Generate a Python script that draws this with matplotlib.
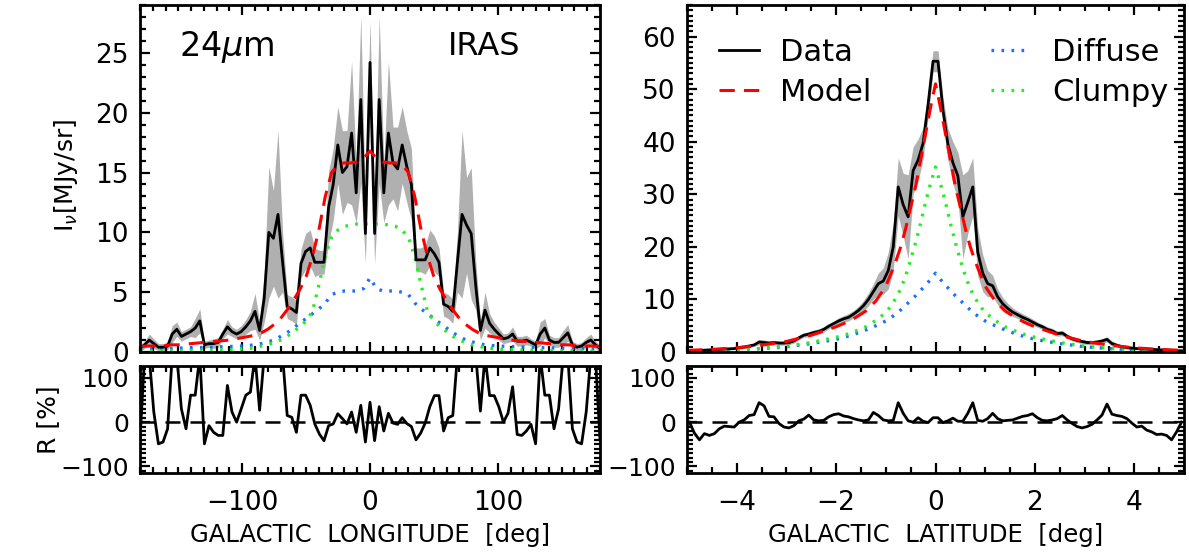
import numpy as np
import matplotlib.pyplot as plt
from matplotlib.ticker import MultipleLocator

plt.rcParams['font.family'] = ['DejaVu Sans']
plt.rcParams['mathtext.fontset'] = 'dejavusans'

# ---- longitude profile (3.6 deg bins) ----
lon = np.linspace(-180, 180, 101)
lon_data = [0.3, 0.6, 1.0, 0.7, 0.4, 0.4, 0.5, 1.5, 1.9, 1.3,
            1.5, 1.7, 2.0, 2.6, 0.6, 0.7, 0.7, 0.8, 1.5, 2.1,
            1.7, 1.5, 1.7, 2.1, 2.6, 3.4, 1.8, 4.5, 10.0, 9.5,
            11.5, 7.5, 3.8, 3.6, 3.3, 7.4, 8.4, 8.7, 7.5, 7.5,
            7.5, 12.1, 14.0, 17.3, 15.0, 15.5, 18.3, 13.3, 21.1, 9.9,
            24.2,
            9.9, 21.1, 13.3, 18.3, 15.8, 15.3, 17.3, 15.5, 14.0, 7.7,
            7.7, 7.7, 8.7, 8.2, 7.5, 4.0, 3.8, 3.4, 7.5, 11.5,
            10.6, 9.9, 5.5, 1.8, 3.5, 2.4, 1.9, 1.5, 1.1, 1.2,
            1.5, 0.9, 0.9, 1.0, 0.8, 0.6, 1.5, 2.0, 1.0, 0.8,
            0.8, 1.2, 1.6, 0.6, 0.4, 0.5, 0.8, 1.0, 0.6, 0.3]
lon_err = [0.3, 0.3, 0.5, 0.4, 0.3, 0.3, 0.3, 0.7, 0.6, 0.4,
           0.4, 0.4, 0.8, 1.0, 0.3, 0.3, 0.4, 0.4, 0.4, 0.6,
           0.4, 0.4, 0.5, 0.6, 0.8, 1.5, 0.8, 2.0, 5.5, 4.0,
           7.0, 2.5, 1.0, 1.0, 1.0, 1.2, 1.5, 1.5, 1.2, 1.0,
           1.0, 3.0, 3.0, 3.2, 3.5, 3.0, 6.0, 2.5, 7.0, 2.5,
           3.5,
           2.5, 7.0, 2.5, 6.0, 3.0, 3.5, 3.2, 3.0, 3.0, 1.0,
           1.0, 1.2, 1.5, 1.5, 1.2, 1.0, 1.0, 1.0, 2.5, 7.0,
           4.0, 5.5, 2.0, 0.8, 1.5, 0.8, 0.6, 0.5, 0.4, 0.4,
           0.6, 0.4, 0.4, 0.4, 0.3, 0.3, 1.0, 0.8, 0.4, 0.4,
           0.4, 0.6, 0.7, 0.3, 0.3, 0.3, 0.4, 0.5, 0.3, 0.3]
lon_resid = [-40, 150, 150, 23, -49, -45, -15, 150, 150, 30,
             -15, 61, 61, 150, -49, -8, -23, -30, -30, 83,
             23, 0, 30, 61, 68, 150, 27, 150, 150, 150,
             150, 150, 15, 11, -23, 61, 61, 38, -4, -27,
             -42, -8, -4, 19, 8, -4, 23, -23, 38, -45,
             45,
             -42, 35, -20, 20, -2, -5, 10, -3, -10, -40,
             -25, -2, 35, 60, 60, -20, 10, 15, 150, 150,
             150, 150, 150, 25, 150, 60, 60, 35, 0, 20,
             80, -28, -30, -20, -5, -49, 150, 61, 61, -15,
             30, 150, 150, -15, -45, -49, 23, 150, 150, -40]

# model components along longitude (5 deg grid)
lon_m = np.arange(-180, 181, 5)
lon_model = [0.45, 0.5, 0.5, 0.5, 0.55, 0.6, 0.6, 0.65, 0.7, 0.75,
             0.8, 0.85, 0.9, 0.95, 1.0, 1.1, 1.2, 1.3, 1.4, 1.6,
             1.9, 2.3, 2.8, 3.5, 4.3, 5.2, 6.3, 8.0, 10.2, 13.0,
             15.0, 15.7, 15.8, 15.8, 15.9, 16.2, 16.8, 16.2, 15.9, 15.8,
             15.8, 15.7, 15.0, 13.0, 10.2, 8.0, 6.3, 5.2, 4.3, 3.5,
             2.8, 2.3, 1.9, 1.6, 1.4, 1.3, 1.2, 1.1, 1.0, 0.95,
             0.9, 0.85, 0.8, 0.75, 0.7, 0.65, 0.6, 0.6, 0.55, 0.5,
             0.5, 0.5, 0.45]
lon_diffuse = [0.25, 0.26, 0.27, 0.28, 0.3, 0.3, 0.32, 0.33, 0.35, 0.36,
               0.38, 0.4, 0.42, 0.44, 0.46, 0.48, 0.5, 0.55, 0.6, 0.7,
               0.85, 1.0, 1.3, 1.6, 2.0, 2.4, 2.8, 3.2, 3.6, 4.1,
               4.8, 5.0, 5.1, 5.1, 5.1, 5.3, 6.2, 5.3, 5.1, 5.1,
               5.1, 5.0, 4.8, 4.1, 3.6, 3.2, 2.8, 2.4, 2.0, 1.6,
               1.3, 1.0, 0.85, 0.7, 0.6, 0.55, 0.5, 0.48, 0.46, 0.44,
               0.42, 0.4, 0.38, 0.36, 0.35, 0.33, 0.32, 0.3, 0.3, 0.28,
               0.27, 0.26, 0.25]
lon_clumpy = [0.08, 0.08, 0.08, 0.09, 0.09, 0.1, 0.1, 0.11, 0.12, 0.13,
              0.14, 0.15, 0.16, 0.18, 0.2, 0.22, 0.25, 0.3, 0.35, 0.5,
              0.6, 0.8, 1.0, 1.3, 1.7, 2.1, 2.6, 3.4, 5.6, 8.0,
              9.6, 10.2, 10.5, 10.6, 10.7, 10.7, 10.7, 10.7, 10.7, 10.6,
              10.5, 10.2, 9.6, 8.0, 5.6, 3.4, 2.6, 2.1, 1.7, 1.3,
              1.0, 0.8, 0.6, 0.5, 0.35, 0.3, 0.25, 0.22, 0.2, 0.18,
              0.16, 0.15, 0.14, 0.13, 0.12, 0.11, 0.1, 0.1, 0.09, 0.09,
              0.08, 0.08, 0.08]

# ---- latitude profile (0.1 deg bins) ----
lat = np.linspace(-4.95, 4.95, 100)
lat_data = [0.2, 0.25, 0.3, 0.35, 0.4, 0.45, 0.5, 0.55, 0.6, 0.65,
            0.85, 0.95, 1.15, 1.35, 1.9, 1.8, 1.7, 1.8, 1.7, 1.7,
            1.8, 2.1, 2.7, 3.2, 3.4, 3.7, 3.9, 4.3, 4.9, 5.4,
            5.9, 6.3, 6.6, 7.2, 7.9, 8.8, 10.0, 11.5, 13.0, 13.5,
            15.5, 20.0, 31.4, 28.0, 25.7, 34.5, 36.5, 39.7, 47.0, 55.3,
            55.3, 46.0, 39.5, 36.0, 33.5, 25.7, 28.5, 31.4, 19.0, 15.0,
            13.0, 12.6, 10.5, 9.2, 8.3, 7.6, 7.1, 6.6, 6.2, 5.7,
            5.2, 4.8, 4.3, 4.0, 3.5, 3.6, 3.0, 2.5, 2.2, 2.0,
            1.8, 1.8, 1.9, 2.1, 2.4, 1.6, 1.3, 1.0, 0.85, 0.75,
            0.65, 0.6, 0.55, 0.5, 0.45, 0.4, 0.35, 0.3, 0.25, 0.2]
lat_err = [0.2, 0.2, 0.2, 0.2, 0.2, 0.2, 0.2, 0.2, 0.2, 0.2,
           0.3, 0.3, 0.3, 0.3, 0.5, 0.5, 0.4, 0.4, 0.4, 0.4,
           0.4, 0.4, 0.4, 0.4, 0.5, 0.5, 0.5, 0.5, 0.5, 0.5,
           0.6, 0.6, 0.7, 0.7, 0.8, 1.0, 1.2, 1.5, 2.0, 2.5,
           3.5, 4.5, 5.5, 6.0, 8.0, 4.5, 4.0, 3.0, 2.5, 2.0,
           2.0, 2.5, 3.0, 4.0, 4.5, 8.0, 6.0, 5.5, 4.5, 3.5,
           2.5, 2.0, 1.5, 1.2, 1.0, 0.8, 0.7, 0.7, 0.6, 0.6,
           0.5, 0.5, 0.5, 0.5, 0.5, 0.5, 0.4, 0.4, 0.4, 0.4,
           0.4, 0.4, 0.4, 0.4, 0.5, 0.5, 0.3, 0.3, 0.3, 0.3,
           0.2, 0.2, 0.2, 0.2, 0.2, 0.2, 0.2, 0.2, 0.2, 0.2]
lat_resid = [0, -25, -40, -26, -30, -26, -15, -9, -10, -11,
             0, 5, 15, 17, 44, 37, 13, 12, -3, -11,
             -13, -8, 3, 7, 16, 5, 3, 4, 12, 17,
             19, 14, 12, 8, 5, 3, 5, 22, 15, 5,
             3, 4, 44, 20, 3, 0, 10, 2, -1, 10,
             10, -1, 3, 9, 2, 2, 20, 44, 4, 2,
             8, 20, 8, 3, 4, 5, 9, 13, 15, 19,
             10, 4, 3, 5, 8, 15, 5, -3, -10, -13,
             -10, -5, 5, 16, 41, 18, 15, 13, 8, -2,
             -11, -9, -18, -22, -28, -27, -30, -40, -22, 0]

# model components along latitude
lat_m = [-5, -4.5, -4, -3.5, -3, -2.5, -2, -1.8, -1.6, -1.4, -1.2,
         -1.0, -0.9, -0.8, -0.7, -0.6, -0.5, -0.4, -0.3, -0.2, -0.1,
         0, 0.1, 0.2, 0.3, 0.4, 0.5, 0.6, 0.7, 0.8, 0.9, 1.0,
         1.2, 1.4, 1.6, 1.8, 2, 2.5, 3, 3.5, 4, 4.5, 5]
lat_model = [0.3, 0.5, 0.8, 1.3, 2.0, 3.2, 4.8, 5.6, 6.6, 7.8, 9.7,
             12.5, 14.8, 17.2, 20.0, 23.5, 27.5, 31.5, 36.5, 41.5, 46.5,
             51.0, 46.5, 41.5, 36.5, 31.5, 27.5, 23.5, 20.0, 17.2, 14.8, 12.5,
             9.7, 7.8, 6.6, 5.6, 4.8, 3.2, 2.0, 1.3, 0.8, 0.5, 0.3]
lat_diffuse = [0.15, 0.25, 0.4, 0.65, 1.0, 1.6, 2.4, 2.9, 3.5, 4.2, 5.0,
               5.9, 6.5, 7.2, 8.0, 8.9, 9.8, 10.7, 11.7, 12.7, 13.8,
               15.0, 13.8, 12.7, 11.7, 10.7, 9.8, 8.9, 8.0, 7.2, 6.5, 5.9,
               5.0, 4.2, 3.5, 2.9, 2.4, 1.6, 1.0, 0.65, 0.4, 0.25, 0.15]
lat_clumpy = [0.15, 0.25, 0.4, 0.7, 1.1, 1.8, 2.8, 3.3, 4.0, 4.8, 6.0,
              7.5, 8.7, 10.2, 12.0, 14.5, 17.5, 20.8, 24.5, 28.5, 32.0,
              35.2, 32.0, 28.5, 24.5, 20.8, 17.5, 14.5, 12.0, 10.2, 8.7, 7.5,
              6.0, 4.8, 4.0, 3.3, 2.8, 1.8, 1.1, 0.7, 0.4, 0.25, 0.15]

BAND = '#b0b0b0'
BLUE = '#1f6fff'
GREEN = '#22ee22'

fig = plt.figure(figsize=(11.89, 5.6), dpi=100)
W, H = 1189.0, 560.0


def box(x0, y0, x1, y1):
    return [x0 / W, 1 - y1 / H, (x1 - x0) / W, (y1 - y0) / H]


def style(ax):
    ax.tick_params(which='both', direction='in', top=True, right=True,
                   width=1.6, labelsize=19, pad=8)
    ax.tick_params(which='major', length=7.5)
    ax.tick_params(which='minor', length=4)
    for s in ax.spines.values():
        s.set_linewidth(2.0)


def profile(ax, x, y, err, xm, model, diffuse, clumpy):
    y = np.array(y)
    err = np.array(err)
    ax.fill_between(x, y - err, y + err, color=BAND, lw=0)
    l_diff, = ax.plot(xm, diffuse, color=BLUE, lw=2.4, dashes=(0.8, 2.2))
    l_clump, = ax.plot(xm, clumpy, color=GREEN, lw=2.4, dashes=(0.8, 2.2))
    l_data, = ax.plot(x, y, color='black', lw=2.0)
    l_model, = ax.plot(xm, model, color='red', lw=2.2, dashes=(5, 3))
    return l_data, l_model, l_diff, l_clump


def residual(ax, x, r, xlim):
    ax.plot(x, r, color='black', lw=2.0)
    ax.axhline(0, color='black', lw=1.8, dashes=(6, 4))
    ax.set_xlim(xlim)
    ax.set_ylim(-115, 127)
    ax.yaxis.set_major_locator(MultipleLocator(100))
    ax.yaxis.set_minor_locator(MultipleLocator(10))


ax1 = fig.add_axes(box(140, 5, 600, 352))
ax2 = fig.add_axes(box(140, 366, 600, 473))
ax3 = fig.add_axes(box(687, 5, 1184, 352))
ax4 = fig.add_axes(box(687, 366, 1184, 473))

# longitude
profile(ax1, lon, lon_data, lon_err, lon_m, lon_model, lon_diffuse, lon_clumpy)
ax1.set_xlim(-180, 180)
ax1.set_ylim(0, 29)
ax1.yaxis.set_major_locator(MultipleLocator(5))
ax1.yaxis.set_minor_locator(MultipleLocator(1))
ax1.text(0.085, 0.88, '24$\\mu$m', transform=ax1.transAxes, fontsize=24, va='center')
ax1.text(0.67, 0.88, 'IRAS', transform=ax1.transAxes, fontsize=23, va='center')

residual(ax2, lon, lon_resid, (-180, 180))
ax2.set_xlabel('GALACTIC  LONGITUDE  [deg]', fontsize=17.5, labelpad=5)

for ax in (ax1, ax2):
    ax.xaxis.set_major_locator(MultipleLocator(100))
    ax.xaxis.set_minor_locator(MultipleLocator(10))

# latitude
handles = profile(ax3, lat, lat_data, lat_err, lat_m, lat_model, lat_diffuse, lat_clumpy)
ax3.set_xlim(-5, 5)
ax3.set_ylim(0, 66)
ax3.yaxis.set_major_locator(MultipleLocator(10))
ax3.yaxis.set_minor_locator(MultipleLocator(1))
ax3.legend(handles, ['Data', 'Model', 'Diffuse', 'Clumpy'], ncol=2,
           loc='upper left', bbox_to_anchor=(0.04, 0.94), frameon=False,
           fontsize=22, handlelength=1.3, handletextpad=0.7,
           columnspacing=3.9, labelspacing=0.35, borderaxespad=0)

residual(ax4, lat, lat_resid, (-5, 5))
ax4.set_xlabel('GALACTIC  LATITUDE  [deg]', fontsize=17.5, labelpad=5)

for ax in (ax3, ax4):
    ax.xaxis.set_major_locator(MultipleLocator(2))
    ax.xaxis.set_minor_locator(MultipleLocator(0.5))

for ax in (ax1, ax3):
    ax.tick_params(labelbottom=False)
for ax in (ax1, ax2, ax3, ax4):
    style(ax)
ax2.tick_params(axis='x', pad=12)
ax4.tick_params(axis='x', pad=12)
ax2.tick_params(axis='y', labelsize=18)
ax4.tick_params(axis='y', labelsize=18)

fig.text(66 / W, 1 - 176 / H, 'I$_\\nu$[MJy/sr]', rotation=90, fontsize=18,
         ha='center', va='center')
fig.text(48 / W, 1 - 420 / H, 'R [%]', rotation=90, fontsize=18,
         ha='center', va='center')

fig.savefig('out.png', dpi=100)
